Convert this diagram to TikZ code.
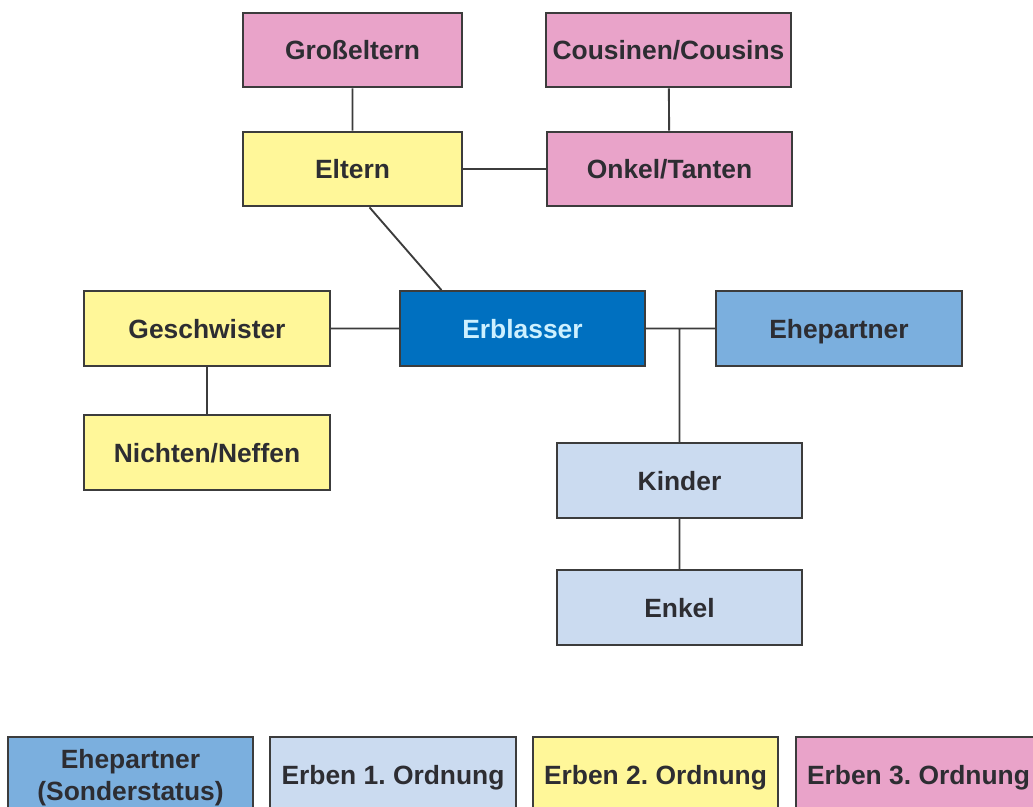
\documentclass[tikz,border=0pt]{standalone}
\usepackage{fontspec}
\setmainfont{Liberation Sans}
\frenchspacing
\usetikzlibrary{calc}
\definecolor{rosa}{RGB}{233,163,201}
\definecolor{gelb}{RGB}{255,247,153}
\definecolor{blaudunkel}{RGB}{0,112,192}
\definecolor{blaumittel}{RGB}{123,175,222}
\definecolor{blauhell}{RGB}{203,219,240}
\definecolor{rand}{RGB}{60,60,60}
\definecolor{schrift}{RGB}{45,45,50}
\definecolor{hellschrift}{RGB}{205,240,255}

\begin{document}
\begin{tikzpicture}[x=0.75pt,y=-0.75pt,
		box/.style={draw=rand, line width=1.5pt, minimum width=184pt, minimum height=56pt, inner sep=0pt, text depth=0pt, align=center, text=schrift, font=\fontsize{19.8}{24}\selectfont\bfseries},
		kante/.style={draw=rand, line width=1.4pt}]
		\useasboundingbox (0,0) rectangle (1033,807);
		\node[box, fill=rosa, minimum width=164pt] (G) at (352.5,50) {Großeltern};
		\node[box, fill=rosa] (C) at (668.5,50) {Cousinen/Cousins};
		\node[box, fill=gelb, minimum width=164pt] (E) at (352.5,169) {Eltern};
		\node[box, fill=rosa] (O) at (669.5,169) {Onkel/Tanten};
		\node[box, fill=blaudunkel, text=hellschrift] (X) at (522.5,328.5) {Erblasser};
		\node[box, fill=gelb] (S) at (207,328.5) {Geschwister};
		\node[box, fill=blaumittel] (P) at (839,328.5) {Ehepartner};
		\node[box, fill=gelb] (N) at (207,452.5) {Nichten/Neffen};
		\node[box, fill=blauhell] (K) at (679.5,480.5) {Kinder};
		\node[box, fill=blauhell] (K2) at (679.5,607.5) {Enkel};
		\node[box, fill=blaumittel] (L1) at (130.5,774.5) {Ehepartner\\(Sonderstatus)};
		\node[box, fill=blauhell] (L2) at (393,774.5) {Erben 1. Ordnung};
		\node[box, fill=gelb] (L3) at (655.5,774.5) {Erben 2. Ordnung};
		\node[box, fill=rosa] (L4) at (918.5,774.5) {Erben 3. Ordnung};
		\path[kante]
			(G) -- (E)
			(C) -- (O)
			(E) -- (O)
			(S) -- (X)
			(X) -- (P)
			(S) -- (N)
			(K) -- (K2)
			(X.east -| K.north) -- (K.north);
		\draw[kante] ($(E.south) + (17,0)$) -- ($(X.north) + (-81,0)$);
	\end{tikzpicture}
\end{document}
